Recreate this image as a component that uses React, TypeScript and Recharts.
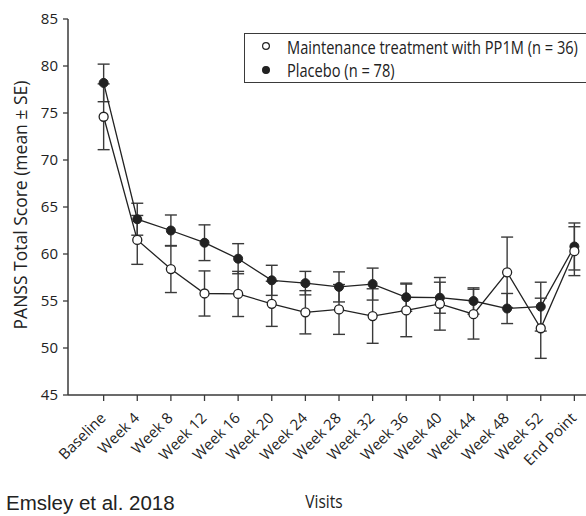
import React from "react";
import {
  LineChart,
  Line,
  XAxis,
  YAxis,
  ErrorBar,
  Legend,
} from "recharts";

const visits = [
  "Baseline",
  "Week 4",
  "Week 8",
  "Week 12",
  "Week 16",
  "Week 20",
  "Week 24",
  "Week 28",
  "Week 32",
  "Week 36",
  "Week 40",
  "Week 44",
  "Week 48",
  "Week 52",
  "End Point",
];

// PP1M maintenance group (n = 36)
const maintMean = [74.6, 61.5, 58.4, 55.8, 55.75, 54.7, 53.8, 54.1, 53.4, 54.0, 54.7, 53.6, 58.05, 52.1, 60.3];
const maintSE = [3.5, 2.6, 2.5, 2.4, 2.4, 2.4, 2.3, 2.65, 2.9, 2.8, 2.8, 2.65, 3.75, 3.2, 2.6];

// placebo group (n = 78)
const placeboMean = [78.2, 63.7, 62.5, 61.2, 59.5, 57.2, 56.9, 56.5, 56.8, 55.4, 55.35, 55.0, 54.2, 54.4, 60.8];
const placeboSE = [2.0, 1.7, 1.65, 1.9, 1.6, 1.6, 1.25, 1.6, 1.7, 1.5, 1.65, 1.4, 1.6, 2.6, 2.5];

const yTicks = [45, 50, 55, 60, 65, 70, 75, 80, 85];

const legendItems = [
  { label: "Maintenance treatment with PP1M (n = 36)", filled: false },
  { label: "Placebo (n = 78)", filled: true },
];

const data = visits.map((v, i) => ({
  idx: i,
  visit: v,
  maint: maintMean[i],
  maintSE: maintSE[i],
  placebo: placeboMean[i],
  placeboSE: placeboSE[i],
}));

const INK = "#222";
const AXIS = "#3a3a3a";
const FONT = "'Open Sans', 'Noto Sans', sans-serif";

const VisitTick = (props: any) => {
  const { x, payload } = props;
  return (
    <g transform={`translate(${x + 3},419)`}>
      <text
        x={0}
        y={0}
        textAnchor="end"
        transform="rotate(-45)"
        fontSize={15}
        fontFamily={FONT}
        fill={INK}
      >
        {visits[payload.value]}
      </text>
    </g>
  );
};

const renderLegend = () => (
  <div
    style={{
      width: 360,
      height: 47,
      border: `1.5px solid ${AXIS}`,
      background: "#fff",
      paddingTop: 0.5,
      fontFamily: FONT,
      color: INK,
    }}
  >
    {legendItems.map((it) => (
      <div
        key={it.label}
        style={{ height: 23.5, display: "flex", alignItems: "center", position: "relative" }}
      >
        <svg width={10} height={10} style={{ position: "absolute", left: 15.5, top: 6.75 }}>
          <circle
            cx={5}
            cy={5}
            r={3.4}
            fill={it.filled ? INK : "#fff"}
            stroke={INK}
            strokeWidth={1.2}
          />
        </svg>
        <span
          style={{
            position: "absolute",
            left: 41.5,
            fontSize: 18.5,
            lineHeight: "23.5px",
            whiteSpace: "nowrap",
            transform: "scaleX(0.79)",
            transformOrigin: "left center",
          }}
        >
          {it.label}
        </span>
      </div>
    ))}
  </div>
);

export default function App() {
  return (
    <div
      style={{
        position: "absolute",
        left: 0,
        top: 0,
        width: 586,
        height: 516,
        overflow: "hidden",
        background: "#fff",
      }}
    >
      <LineChart
        width={640}
        height={516}
        data={data}
        margin={{ top: 19, right: 32, left: 0, bottom: 0 }}
      >
        <XAxis
          type="number"
          dataKey="idx"
          domain={[-1.06, 15]}
          ticks={visits.map((_, i) => i)}
          interval={0}
          height={121}
          tickSize={6}
          tick={VisitTick}
          axisLine={{ stroke: AXIS, strokeWidth: 1.5 }}
          tickLine={{ stroke: AXIS, strokeWidth: 1.3 }}
          label={{
            content: () => (
              <text
                transform="translate(324,508) scale(0.84,1)"
                textAnchor="middle"
                fontSize={18.5}
                fontFamily={FONT}
                fill={INK}
              >
                Visits
              </text>
            ),
          }}
        />
        <YAxis
          width={68}
          domain={[45, 85]}
          ticks={yTicks}
          interval={0}
          tickSize={5}
          tickMargin={5}
          tick={{ fontSize: 15, fontFamily: FONT, fill: INK }}
          axisLine={{ stroke: AXIS, strokeWidth: 1.5 }}
          tickLine={{ stroke: AXIS, strokeWidth: 1.3 }}
          label={{
            content: () => (
              <text
                x={27}
                y={205}
                transform="rotate(-90 27 205)"
                textAnchor="middle"
                fontSize={17.5}
                fontFamily={FONT}
                fill={INK}
              >
                PANSS Total Score (mean ± SE)
              </text>
            ),
          }}
        />
        <Legend
          layout="horizontal"
          verticalAlign="middle"
          align="center"
          content={renderLegend}
          wrapperStyle={{ left: 244, top: 33, width: 360 }}
        />
        <Line
          dataKey="placebo"
          stroke={INK}
          strokeWidth={1.3}
          dot={{ r: 4.5, fill: INK, stroke: INK, strokeWidth: 1 }}
          activeDot={false}
          isAnimationActive={false}
        >
          <ErrorBar dataKey="placeboSE" direction="y" width={6} stroke={AXIS} strokeWidth={1.4} />
        </Line>
        <Line
          dataKey="maint"
          stroke={INK}
          strokeWidth={1.3}
          dot={{ r: 4.5, fill: "#fff", stroke: INK, strokeWidth: 1.3 }}
          activeDot={false}
          isAnimationActive={false}
        >
          <ErrorBar dataKey="maintSE" direction="y" width={6} stroke={AXIS} strokeWidth={1.4} />
        </Line>
      </LineChart>
      <div
        style={{
          position: "absolute",
          left: 6,
          top: 492.6,
          fontFamily: "'Liberation Sans', Arial, sans-serif",
          fontSize: 20.5,
          lineHeight: 1,
          color: INK,
          whiteSpace: "nowrap",
        }}
      >
        Emsley et al. 2018
      </div>
    </div>
  );
}
